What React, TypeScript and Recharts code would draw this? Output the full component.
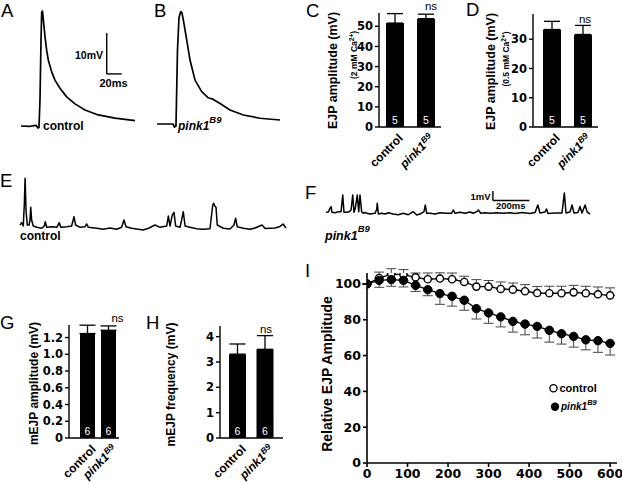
import React from 'react';
import { BarChart, Bar, XAxis, YAxis, ErrorBar, LabelList, LineChart, Line, ReferenceLine } from 'recharts';

const SANS = '"Liberation Sans", Arial, Helvetica, sans-serif';
const WIDE = '"DejaVu Sans", Verdana, sans-serif';

// ---------- A / B : evoked EJP traces (time in ms, voltage in mV)
const ejpControlTime = [4, 16, 24, 26.7, 28, 29.3, 30.7, 31.6, 32.7, 33.8, 36, 38.2, 40.4, 44.9, 49.3, 56, 64.9, 76, 89.3, 107, 129.3, 156];
const ejpControlVolt = [0, -0.07, 0.17, -0.49, -0.32, 6.3, 21, 27.8, 28, 25.9, 21.8, 18.5, 16.1, 13.2, 11.2, 9.2, 7.1, 5.4, 3.9, 2.7, 1.9, 1.3];
const ejpPinkTime = [4, 25.3, 27.3, 29.3, 30, 31.3, 33.3, 35.6, 37.3, 39.1, 43.6, 48, 54.7, 63.6, 72.4, 79.1, 88, 101.3, 119.1, 141.3, 168];
const ejpPinkVolt = [0, 0, -0.73, -0.49, 5.9, 18, 25.9, 27.4, 27.1, 25.4, 20.5, 15.6, 10.7, 7.9, 6.4, 6, 5, 3.4, 2.2, 1.4, 0.98];
const ejpScaleBar = { t: 118.3, v: 12.7, dt: 20, dv: 10 };

// ---------- E / F : spontaneous mEJP traces (ms, mV)
const mejpControlTime = [11, 20, 29, 35, 39, 44, 51, 61, 66, 70, 75, 84, 103, 130, 145, 150, 158, 185, 213, 227, 235, 268, 295, 308, 317, 341, 369, 378, 387, 433, 469, 506, 543, 570, 583, 594, 625, 662, 689, 717, 754, 781, 818, 827, 836, 849, 858, 867, 891, 900, 909, 919, 946, 983, 1019, 1056, 1071, 1076, 1082, 1089, 1096, 1129, 1166, 1188, 1197, 1206, 1239, 1276, 1304, 1342, 1359, 1414, 1441, 1458, 1474];
const mejpControlVolt = [0.26, 0.51, 0.16, 2.55, 5.18, 1.84, 0.26, 0.26, 0.79, 2.13, 0.79, 0.16, 0.02, -0.08, 0.16, 0.61, 0.02, 0.08, 0.02, 0.51, 0.02, 0.08, 0.16, 1.14, 0.26, 0.02, 0.08, 0.37, 0.02, -0.08, -0.19, -0.05, -0.19, 0.02, 0.79, 0.08, -0.08, -0.19, -0.26, -0.08, 0.26, 0.02, 0.16, 1.21, 0.16, 1.32, 1.6, 0.16, 0.02, 0.79, 1.66, 0.16, 0.02, -0.13, -0.19, -0.13, 2.37, 2.55, 2.26, 2.13, 0.26, -0.08, -0.16, 0.26, 0.97, 0.08, -0.08, -0.19, -0.05, 0.26, -0.11, -0.05, 0.11, 0.37, -0.05];
const mejpPinkTime = [22, 35, 44, 50, 55, 72, 90, 105, 114, 121, 136, 150, 160, 169, 176, 183, 194, 202, 209, 218, 227, 237, 246, 264, 292, 301, 304, 310, 328, 347, 365, 392, 420, 447, 475, 502, 521, 539, 561, 568, 576, 594, 622, 649, 686, 713, 722, 732, 759, 787, 814, 832, 851, 860, 873, 897, 924, 961, 997, 1034, 1062, 1100, 1144, 1172, 1187, 1199, 1227, 1235, 1243, 1282, 1320, 1333, 1342, 1364, 1375, 1386, 1408, 1419, 1430, 1447, 1458, 1474];
const mejpPinkVolt = [0.07, 0.11, 0.49, 0.67, 0.07, 0.03, 0.14, 0.14, 1.89, 0.07, 0.07, 0.14, 0.32, 1.89, 0.07, 0.49, 1.89, 0.14, 1.89, 0.14, -0.03, 0.07, -0.03, -0.11, -0.03, 0.39, 1.02, -0.11, -0.03, -0.11, 0.03, -0.11, -0.18, -0.03, -0.18, 0.14, -0.21, -0.11, 0.14, 0.84, -0.03, -0.03, -0.11, 0.03, -0.03, -0.03, 0.32, -0.03, 0.07, -0.03, 0.11, -0.03, 0.14, 0.32, -0.03, 0.03, -0.03, 0.03, -0.03, 0.03, -0.05, 0.05, -0.05, 0.05, 0.84, 0, 0.11, 0.42, -0.05, 0, 0, 2.11, 0, 0.11, 0.84, 0, 0.05, 0.68, 0, 0.84, 0.11, -0.11];
const mejpScaleBar = { t: 940, v: 1.32, dt: 200, dv: 1 };

// ---------- C, D, G, H : bar graphs
const groups = ['control', 'pink1'];
const ejp2Mean = [51.6, 53.8];
const ejp2Sem = [4.7, 2.2];
const ejp05Mean = [33.3, 31.6];
const ejp05Sem = [2.8, 3.1];
const mejpAmpMean = [1.248, 1.287];
const mejpAmpSem = [0.1, 0.052];
const mejpFreqMean = [3.31, 3.5];
const mejpFreqSem = [0.4, 0.54];
const nEjp = [5, 5];
const nMejp = [6, 6];

// ---------- I : relative EJP amplitude during stimulation
const stimTime = [0, 30, 60, 90, 120, 150, 180, 210, 240, 270, 300, 330, 360, 390, 420, 450, 480, 510, 540, 570, 600];
const controlRel = [100, 103.3, 105.5, 105.2, 103.7, 102.6, 103, 102.6, 101.1, 98.5, 98.5, 97.2, 96.8, 95.9, 94.9, 94.8, 94.8, 95.3, 94.8, 94.2, 93.6];
const controlRelSem = [0, 3.3, 3, 2.8, 2.4, 3.5, 3.2, 3.5, 3.2, 3.9, 3.4, 3.9, 3.7, 3.7, 3.7, 3.9, 3.9, 3.9, 3.9, 4.1, 4.2];
const pinkRel = [100, 102, 102.4, 102, 99.2, 96.8, 94.6, 93.1, 90.9, 86.2, 83.8, 81.6, 79.1, 77.6, 76.3, 74.1, 72.2, 70.7, 68.8, 68.3, 66.8];
const pinkRelSem = [0, 3.9, 3.7, 3.7, 3.4, 3.4, 6, 5.5, 5.6, 5.8, 5.8, 5.6, 6, 6, 6.5, 6.6, 5.8, 6, 5.6, 6.5, 6.5];
const relYTicks = [0, 20, 40, 60, 80, 100];
const relXTicks = [0, 100, 200, 300, 400, 500, 600];

function Trace(props: any) {
  const { left, top, width, height, time, volt, xMax, yMin, yMax, sw, bar } = props;
  const data = time.map((t: number, i: number) => ({ t, v: volt[i] }));
  return (
    <div style={{ position: 'absolute', left, top, width, height }}>
      <LineChart width={width} height={height} data={data} margin={{ top: 0, right: 0, bottom: 0, left: 0 }}>
        <XAxis type="number" dataKey="t" domain={[0, xMax]} hide allowDataOverflow />
        <YAxis type="number" domain={[yMin, yMax]} hide allowDataOverflow />
        <Line dataKey="v" type="linear" stroke="#000" strokeWidth={sw} dot={false} isAnimationActive={false} strokeLinejoin="round" />
        {bar ? (
          <ReferenceLine segment={[{ x: bar.t, y: bar.v }, { x: bar.t, y: bar.v + bar.dv }]} stroke="#000" strokeWidth={1.4} ifOverflow="visible" />
        ) : null}
        {bar ? (
          <ReferenceLine segment={[{ x: bar.t, y: bar.v }, { x: bar.t + bar.dt, y: bar.v }]} stroke="#000" strokeWidth={1.4} ifOverflow="visible" />
        ) : null}
      </LineChart>
    </div>
  );
}

const GroupTick = (props: any) => {
  const { x, y, payload } = props;
  const pink = payload.value === 'pink1';
  return (
    <g transform={`translate(${x},${y})`}>
      <text
        transform="translate(9,12) rotate(-45)"
        textAnchor="end"
        fontFamily={SANS}
        fontWeight="bold"
        fontSize={12}
        fontStyle={pink ? 'italic' : 'normal'}
        fill="#000"
      >
        {pink ? (
          <>
            <tspan>pink1</tspan>
            <tspan fontSize={8.5} dy={-4}>B9</tspan>
          </>
        ) : (
          'control'
        )}
      </text>
    </g>
  );
};

function BarPanel(props: any) {
  const { x0, x1, y0, y1, padL, padR, yMax, ticks, fmt, mean, sem, n, barSize } = props;
  const yw = 34;
  const mt = 10;
  const mr = 6;
  const xh = 50;
  const width = x1 - x0 + yw + mr;
  const height = y1 - y0 + mt + xh;
  const data = groups.map((g, i) => ({ group: g, mean: mean[i], err: [0, sem[i]], n: n[i] }));
  return (
    <div style={{ position: 'absolute', left: x0 - yw, top: y0 - mt, width, height }}>
      <BarChart width={width} height={height} data={data} margin={{ top: mt, right: mr, left: 0, bottom: 0 }} barSize={barSize}>
        <XAxis
          dataKey="group"
          height={xh}
          axisLine={{ stroke: '#000', strokeWidth: 1.4 }}
          tickLine={false}
          tickSize={0}
          tickMargin={0}
          tick={<GroupTick />}
          interval={0}
          padding={{ left: padL, right: padR }}
        />
        <YAxis
          width={yw}
          domain={[0, yMax]}
          ticks={ticks}
          tickFormatter={fmt}
          allowDataOverflow
          interval={0}
          axisLine={{ stroke: '#000', strokeWidth: 1.4 }}
          tickLine={{ stroke: '#000', strokeWidth: 1.4 }}
          tickSize={4}
          tickMargin={2}
          tick={{ fontFamily: WIDE, fontSize: 11.5, fontWeight: 'bold', fill: '#000' }}
        />
        <Bar dataKey="mean" fill="#000" isAnimationActive={false}>
          <ErrorBar dataKey="err" width={8} stroke="#000" strokeWidth={1.3} direction="y" />
          <LabelList dataKey="n" position="insideBottom" offset={3} fill="#fff" fontSize={10.5} fontFamily={SANS} />
        </Bar>
      </BarChart>
    </div>
  );
}

function RelPanel() {
  const x0 = 367, x1 = 617, y0 = 273, y1 = 463;
  const yw = 40, mt = 10, mr = 5, xh = 21;
  const width = x1 - x0 + yw + mr;
  const height = y1 - y0 + mt + xh;
  const data = stimTime.map((t, i) => ({
    t,
    control: controlRel[i],
    controlErr: [0, controlRelSem[i]],
    pink: pinkRel[i],
    pinkErr: [pinkRelSem[i], 0],
  }));
  const tickStyle = { fontFamily: WIDE, fontSize: 12.5, fontWeight: 'bold', fill: '#000' };
  return (
    <div style={{ position: 'absolute', left: x0 - yw, top: y0 - mt, width, height }}>
      <LineChart width={width} height={height} data={data} margin={{ top: mt, right: mr, left: 0, bottom: 0 }}>
        <XAxis
          type="number"
          dataKey="t"
          domain={[0, 617]}
          ticks={relXTicks}
          interval={0}
          height={xh}
          allowDataOverflow
          axisLine={{ stroke: '#000', strokeWidth: 1.6 }}
          tickLine={{ stroke: '#000', strokeWidth: 1.6 }}
          tickSize={4}
          tickMargin={2}
          tick={tickStyle}
        />
        <YAxis
          width={yw}
          domain={[0, 106.1]}
          ticks={relYTicks}
          interval={0}
          allowDataOverflow
          axisLine={{ stroke: '#000', strokeWidth: 1.6 }}
          tickLine={{ stroke: '#000', strokeWidth: 1.6 }}
          tickSize={4}
          tickMargin={2}
          tick={tickStyle}
        />
        <Line
          dataKey="control"
          type="linear"
          stroke="#000"
          strokeWidth={1.3}
          isAnimationActive={false}
          dot={{ r: 3.6, fill: '#fff', stroke: '#000', strokeWidth: 1.4 }}
        >
          <ErrorBar dataKey="controlErr" width={5} stroke="#444" strokeWidth={1} direction="y" />
        </Line>
        <Line
          dataKey="pink"
          type="linear"
          stroke="#000"
          strokeWidth={1.3}
          isAnimationActive={false}
          dot={{ r: 4.2, fill: '#000', stroke: '#000', strokeWidth: 1 }}
        >
          <ErrorBar dataKey="pinkErr" width={5} stroke="#444" strokeWidth={1} direction="y" />
        </Line>
      </LineChart>
    </div>
  );
}

function Overlay() {
  const letter = { fontFamily: SANS, fontSize: 18.5, fill: '#000' };
  const bold = { fontFamily: SANS, fontWeight: 'bold' as const, fill: '#000' };
  const ns = { fontFamily: SANS, fontSize: 11.5, fill: '#000', textAnchor: 'middle' as const };
  const vTitle = (x: number, y: number, size: number, content: any) => (
    <text transform={`translate(${x},${y}) rotate(-90)`} textAnchor="middle" dominantBaseline="central" fontSize={size} {...bold}>
      {content}
    </text>
  );
  return (
    <svg width={622} height={484} style={{ position: 'absolute', left: 0, top: 0, pointerEvents: 'none' }}>
      <text x={1} y={17} {...letter}>A</text>
      <text x={154} y={17} {...letter}>B</text>
      <text x={306} y={17} {...letter}>C</text>
      <text x={466} y={15.5} {...letter}>D</text>
      <text x={0} y={187} {...letter}>E</text>
      <text x={305} y={199} {...letter}>F</text>
      <text x={0} y={329} {...letter}>G</text>
      <text x={146} y={329} {...letter}>H</text>
      <text x={305} y={277} {...letter}>I</text>

      <text x={43} y={130} fontSize={12} {...bold}>control</text>
      <text x={178} y={129.5} fontSize={12} fontStyle="italic" {...bold}>
        pink1<tspan fontSize={9.5} dy={-7}>B9</tspan>
      </text>
      <text x={103} y={58.5} fontSize={10.5} textAnchor="end" {...bold}>10mV</text>
      <text x={113.5} y={86.5} fontSize={11} textAnchor="middle" {...bold}>20ms</text>

      <text x={20} y={240} fontSize={12} {...bold}>control</text>
      <text x={325} y={240} fontSize={12.5} fontStyle="italic" {...bold}>
        pink1<tspan fontSize={9.5} dy={-8}>B9</tspan>
      </text>
      <text x={490.5} y={199.5} fontSize={9.5} textAnchor="end" {...bold}>1mV</text>
      <text x={496} y={209} fontSize={9.5} {...bold}>200ms</text>

      <text x={431} y={10} {...ns}>ns</text>
      <text x={585} y={23} {...ns}>ns</text>
      <text x={117.5} y={321.5} {...ns}>ns</text>
      <text x={266} y={333} {...ns}>ns</text>

      {vTitle(333, 70.5, 12.5, 'EJP amplitude (mV)')}
      {vTitle(354, 55, 8.5, (
        <>
          (2 mM Ca<tspan fontSize={6.5} dy={-3}>2+</tspan><tspan dy={3}>)</tspan>
        </>
      ))}
      {vTitle(491, 71.5, 12.5, 'EJP amplitude (mV)')}
      {vTitle(505.5, 59, 8.5, (
        <>
          (0.5 mM Ca<tspan fontSize={6.5} dy={-3}>2+</tspan><tspan dy={3}>)</tspan>
        </>
      ))}
      {vTitle(33.5, 383.5, 12, 'mEJP amplitude (mV)')}
      {vTitle(171, 384.5, 12, 'mEJP frequency (mV)')}
      {vTitle(327, 374, 14, 'Relative EJP Amplitude')}

      <circle cx={553.5} cy={388.3} r={3.6} fill="#fff" stroke="#000" strokeWidth={1.3} />
      <text x={559.5} y={392} fontSize={11} {...bold}>control</text>
      <circle cx={555} cy={406.7} r={4.2} fill="#000" />
      <text x={561} y={410} fontSize={10} fontStyle="italic" {...bold}>
        pink1<tspan fontSize={7.5} dy={-5}>B9</tspan>
      </text>
    </svg>
  );
}

export default function App() {
  return (
    <div style={{ position: 'absolute', left: 0, top: 0, width: 622, height: 484, background: '#fff', overflow: 'hidden' }}>
      <Trace left={18} top={6} width={120} height={124} time={ejpControlTime} volt={ejpControlVolt} xMax={160} yMin={-0.976} yMax={29.27} sw={1.7} bar={ejpScaleBar} />
      <Trace left={154} top={6} width={130} height={124} time={ejpPinkTime} volt={ejpPinkVolt} xMax={173.3} yMin={-1.463} yMax={28.78} sw={1.7} />
      <Trace left={18} top={170} width={272} height={70} time={mejpControlTime} volt={mejpControlVolt} xMax={1496} yMin={-1.316} yMax={6.053} sw={1.5} />
      <Trace left={322} top={182} width={272} height={50} time={mejpPinkTime} volt={mejpPinkVolt} xMax={1496} yMin={-2} yMax={3.263} sw={1.5} bar={mejpScaleBar} />

      <BarPanel x0={379} x1={441} y0={13} y1={127} padL={0} padR={0} yMax={56.6} ticks={[0, 10, 20, 30, 40, 50]} mean={ejp2Mean} sem={ejp2Sem} n={nEjp} barSize={18} />
      <BarPanel x0={533} x1={598} y0={14} y1={127} padL={3} padR={0} yMax={38.6} ticks={[0, 10, 20, 30]} mean={ejp05Mean} sem={ejp05Sem} n={nEjp} barSize={18} />
      <BarPanel x0={69} x1={119} y0={325} y1={438} padL={8} padR={0} yMax={1.35} ticks={[0, 0.2, 0.4, 0.6, 0.8, 1.0, 1.2]} fmt={(v: number) => (v === 0 ? '0' : v.toFixed(1))} mean={mejpAmpMean} sem={mejpAmpSem} n={nMejp} barSize={15} />
      <BarPanel x0={220} x1={283} y0={326} y1={438} padL={4} padR={4} yMax={4.42} ticks={[0, 1, 2, 3, 4]} mean={mejpFreqMean} sem={mejpFreqSem} n={nMejp} barSize={17} />

      <RelPanel />
      <Overlay />
    </div>
  );
}
